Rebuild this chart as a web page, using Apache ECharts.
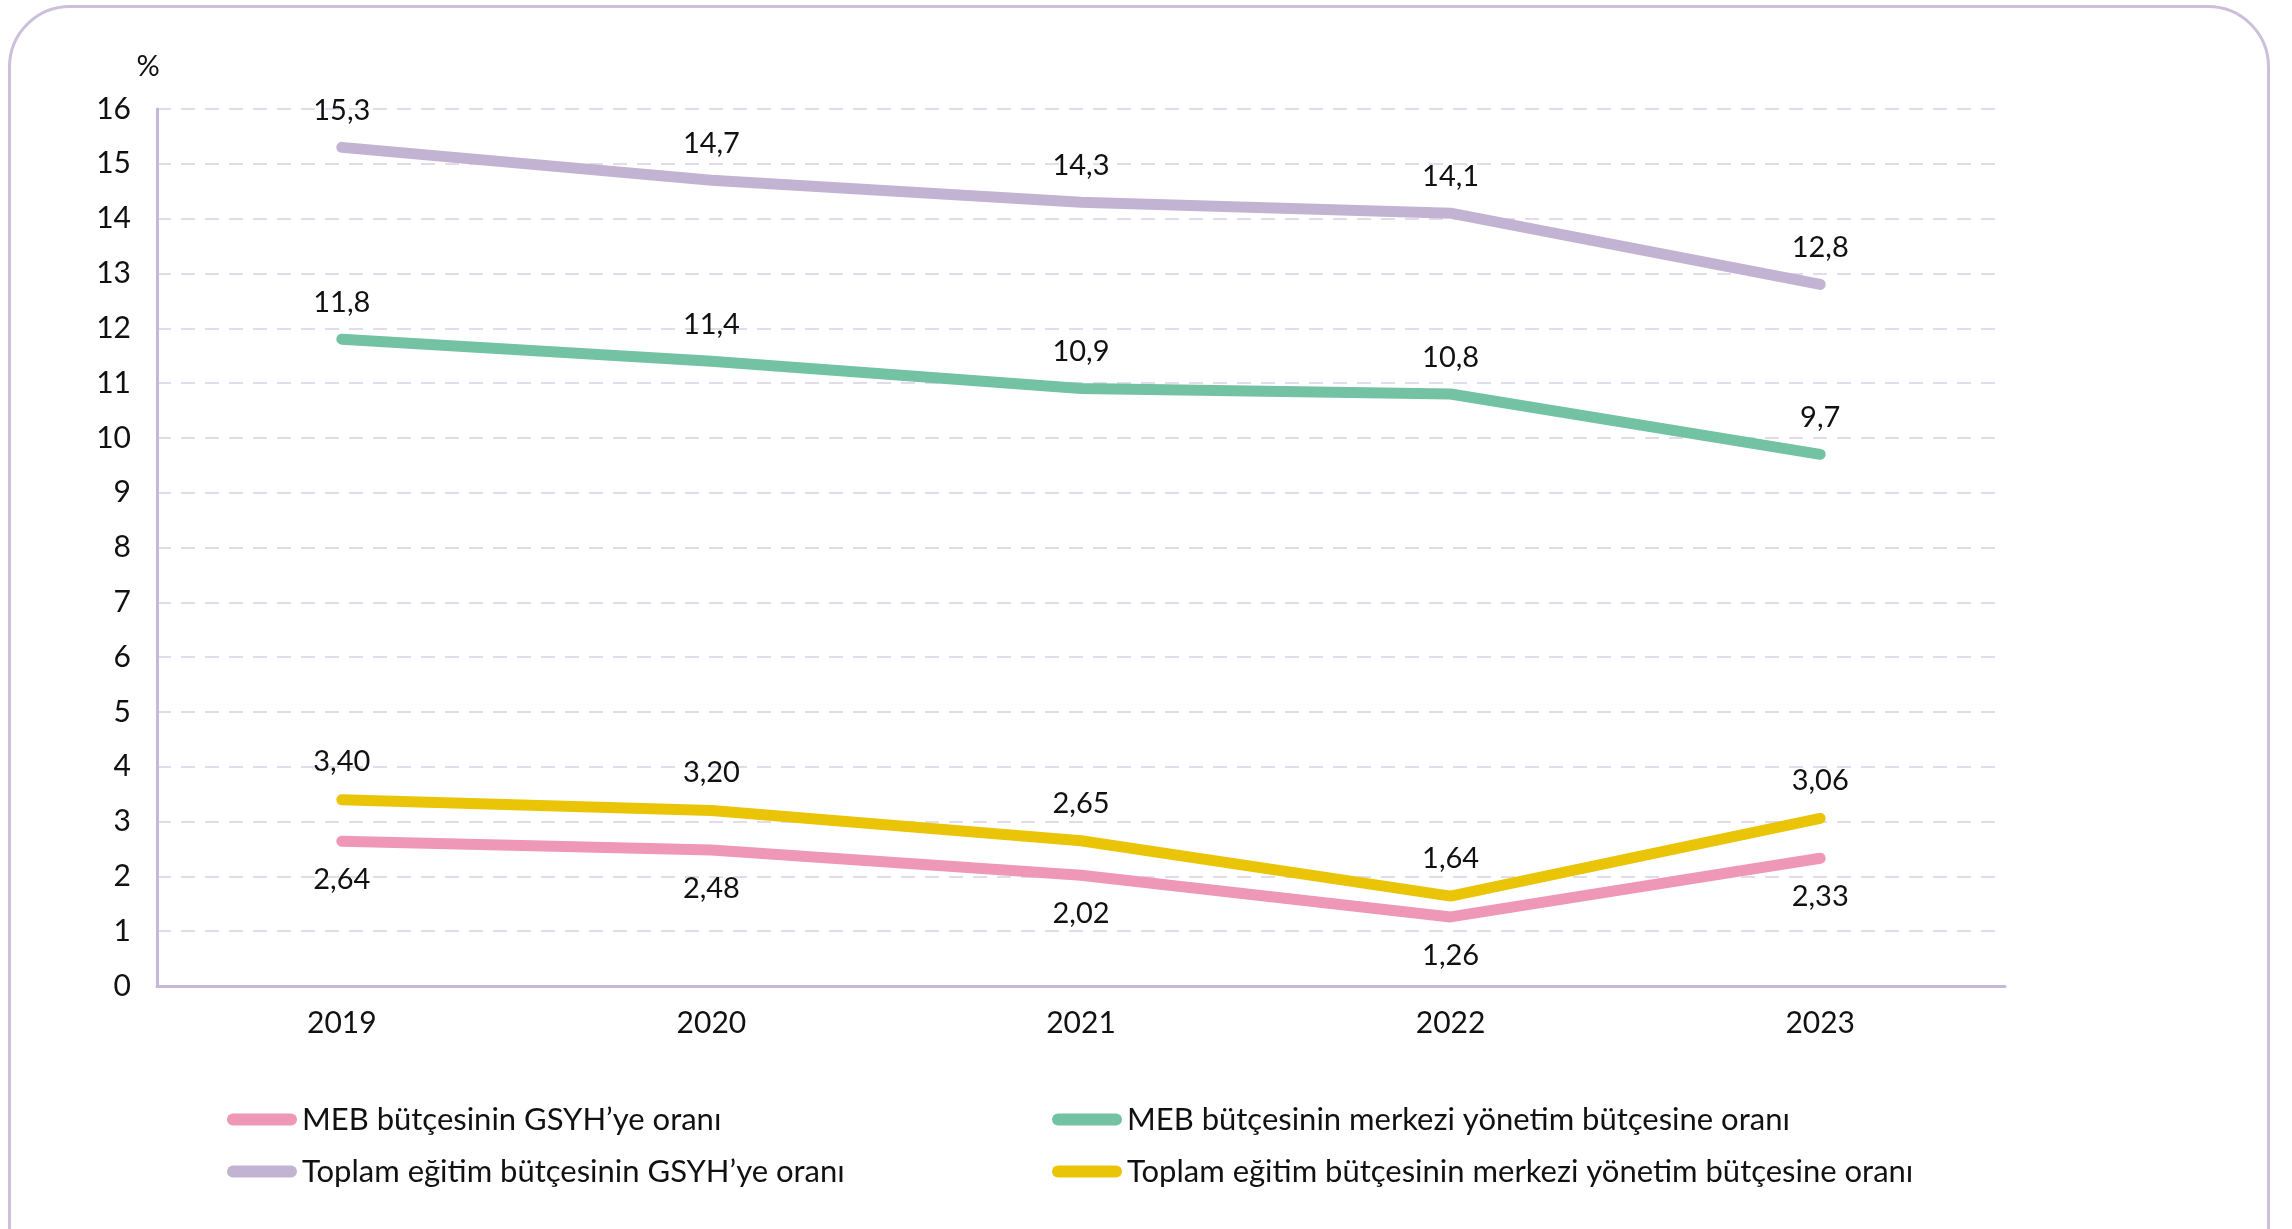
<!DOCTYPE html>
<html>
<head>
<meta charset="utf-8">
<script src="https://cdn.jsdelivr.net/npm/echarts@6/dist/echarts.min.js"></script>
<style>
html,body{margin:0;padding:0;background:#fff;}
#frame{position:absolute;left:8px;top:5px;width:2262px;height:1300px;border:3px solid #cbbfdc;border-radius:62px;box-sizing:border-box;}
#chart{position:absolute;left:0;top:0;width:2292px;height:1229px;}
</style>
</head>
<body>
<div id="frame"></div>
<div id="chart"></div>
<script>
const years = ['2019', '2020', '2021', '2022', '2023'];
const mebGsyh = [2.64, 2.48, 2.02, 1.26, 2.33];
const mebMerkezi = [11.8, 11.4, 10.9, 10.8, 9.7];
const toplamGsyh = [15.3, 14.7, 14.3, 14.1, 12.8];
const toplamMerkezi = [3.40, 3.20, 2.65, 1.64, 3.06];
const yTicks = [0, 1, 2, 3, 4, 5, 6, 7, 8, 9, 10, 11, 12, 13, 14, 15, 16];

const names = [
  'MEB bütçesinin GSYH\u2019ye oranı',
  'MEB bütçesinin merkezi yönetim bütçesine oranı',
  'Toplam eğitim bütçesinin GSYH\u2019ye oranı',
  'Toplam eğitim bütçesinin merkezi yönetim bütçesine oranı'
];
const colors = ['#ee97b7', '#72c2a3', '#c3b3d3', '#eac406'];
const FONT = 'Lato';
const capsule = 'path://M6,0 H64 A6,6 0 0 1 64,12 H6 A6,6 0 0 1 6,0 Z';

function fmt(dec) {
  return p => p.value.toFixed(dec).replace('.', ',');
}
function series(i, data, dec, pos, dist) {
  return {
    name: names[i], type: 'line', data: data,
    symbol: 'circle', symbolSize: 4, showSymbol: true,
    lineStyle: {color: colors[i], width: 11, cap: 'round', join: 'round'},
    itemStyle: {color: colors[i]},
    label: {show: true, position: pos, distance: dist, formatter: fmt(dec),
      fontFamily: FONT, fontSize: 29, color: '#111'},
    emphasis: {disabled: true},
    z: i === 3 ? 4 : 3
  };
}

const chart = echarts.init(document.getElementById('chart'));
chart.setOption({
  animation: false,
  textStyle: {fontFamily: FONT},
  grid: {left: 157, right: 287, top: 109, bottom: 243},
  xAxis: {
    type: 'category', data: years, boundaryGap: true,
    axisLine: {lineStyle: {color: '#c5b8d8', width: 3}},
    axisTick: {show: false},
    axisLabel: {fontFamily: FONT, fontSize: 30, color: '#111', margin: 22}
  },
  yAxis: {
    type: 'value', min: yTicks[0], max: yTicks[yTicks.length - 1], interval: 1,
    name: '%', nameLocation: 'end', nameGap: 28,
    nameTextStyle: {fontFamily: FONT, fontSize: 29, color: '#111', align: 'center', padding: [0, 18, 0, 0]},
    axisLine: {show: true, lineStyle: {color: '#c5b8d8', width: 3}},
    axisTick: {show: false},
    axisLabel: {fontFamily: FONT, fontSize: 30, color: '#111', margin: 26},
    splitLine: {lineStyle: {color: '#e3dbe9', width: 2, type: [14, 10]}}
  },
  legend: [
    {
      data: [names[0], names[2]], orient: 'vertical', left: 222, top: 1099,
      itemWidth: 70, itemHeight: 12, itemGap: 21, itemTextGap: 18, icon: capsule,
      textStyle: {fontFamily: FONT, fontSize: 31, color: '#111'}
    },
    {
      data: [names[1], names[3]], orient: 'vertical', left: 1047, top: 1099,
      itemWidth: 70, itemHeight: 12, itemGap: 21, itemTextGap: 18, icon: capsule,
      textStyle: {fontFamily: FONT, fontSize: 31, color: '#111'}
    }
  ],
  series: [
    series(0, mebGsyh, 2, 'bottom', 22),
    series(1, mebMerkezi, 1, 'top', 20),
    series(2, toplamGsyh, 1, 'top', 20),
    series(3, toplamMerkezi, 2, 'top', 21)
  ]
});
</script>
</body>
</html>
